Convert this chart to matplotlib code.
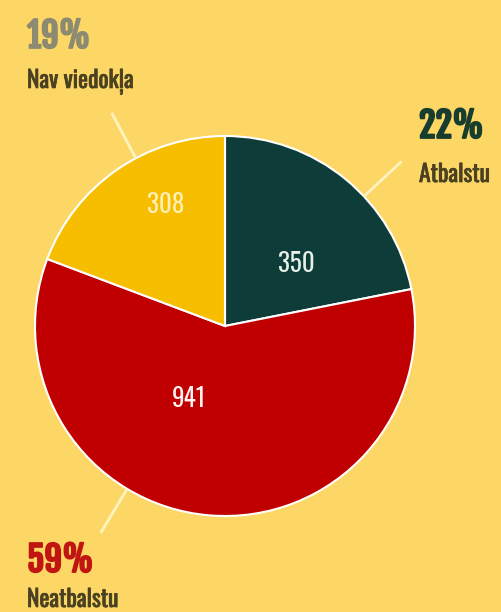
import matplotlib.pyplot as plt
import matplotlib.patheffects as pe
import numpy as np

labels = ["Atbalstu", "Neatbalstu", "Nav viedokļa"]
counts = [350, 941, 308]
percents = ["22%", "59%", "19%"]

bg = "#FDD765"
slice_colors = ["#0E3C39", "#C00000", "#F7BE00"]
pct_colors = ["#173D2E", "#C01510", "#8C8A70"]
count_colors = ["#E8F0E8", "#FFF2F0", "#FFF0B8"]
font = ["Oswald", "DejaVu Sans"]
bold_font = ["Fjalla One", "Oswald", "DejaVu Sans"]

fig = plt.figure(figsize=(5.02, 6.12), dpi=100, facecolor=bg)

# pie axes: centre ~ (225, 325) px, radius ~190 px
cx, cy, r = 225, 326, 190
ax = fig.add_axes([(cx - r) / 502, (612 - cy - r) / 612, 2 * r / 502, 2 * r / 612])
ax.set_facecolor(bg)

wedges, _ = ax.pie(counts, colors=slice_colors, startangle=90, counterclock=False,
                   wedgeprops=dict(edgecolor="white", linewidth=1.5))
ax.set_xlim(-1, 1)
ax.set_ylim(-1, 1)
ax.set_aspect("equal")
ax.axis("off")

# counts inside slices (angle in degrees, distance from centre)
inner_pos = [(41, 0.5), (244, 0.43), (116, 0.71)]
for (a, d), n, c in zip(inner_pos, counts, count_colors):
    t = np.deg2rad(a)
    ax.text(d * np.cos(t), d * np.sin(t), str(n), color=c, fontsize=18,
            family=font, ha="center", va="center")

# leader lines
leader_angles = [43, 239, 118]
for a in leader_angles:
    t = np.deg2rad(a)
    ax.plot([1.0 * np.cos(t), 1.27 * np.cos(t)], [1.0 * np.sin(t), 1.27 * np.sin(t)],
            color="#FFF3C0", lw=2, clip_on=False, solid_capstyle="butt")

# outer labels (figure pixel positions, top-left origin)
label_pos = [(419, 138, 182), (27, 572, 607), (27, 48, 88)]
text_color = "#4A4122"
for (x, y1, y2), p, lab, pc in zip(label_pos, percents, labels, pct_colors):
    fig.text(x / 502, 1 - y1 / 612, p, color=pc, fontsize=25,
             family=bold_font, ha="left", va="baseline",
             path_effects=[pe.withStroke(linewidth=1.3, foreground=pc)])
    fig.text(x / 502, 1 - y2 / 612, lab, color=text_color, fontsize=17,
             family=font, ha="left", va="baseline",
             path_effects=[pe.withStroke(linewidth=0.5, foreground=text_color)])

fig.savefig("out.png", dpi=100, facecolor=bg)
